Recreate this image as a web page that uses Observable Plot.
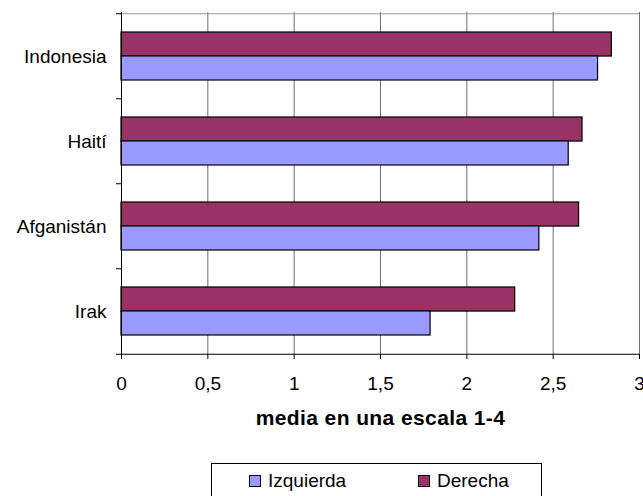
<!DOCTYPE html>
<html><head><meta charset="utf-8">
<script src="https://cdn.jsdelivr.net/npm/d3@7"></script>
<script src="https://cdn.jsdelivr.net/npm/@observablehq/plot@0.6"></script>
<style>
body{margin:0;background:#fff;font-family:"Liberation Sans",Arial,sans-serif;}
#wrap{position:relative;width:643px;height:496px;overflow:hidden;background:#fff;}
#legend{position:absolute;left:211px;top:463px;width:331px;height:35px;border:1px solid #000;box-sizing:border-box;background:#fff;}
.item{position:absolute;top:0;height:33px;display:flex;align-items:center;font-size:19px;color:#000;white-space:nowrap;}
.sw{width:10px;height:10px;border:1px solid #000;margin-right:7px;}
</style></head><body><div id="wrap"><div id="chart"></div><div id="legend"></div></div>
<script>
const countries = ["Indonesia", "Haití", "Afganistán", "Irak"];
const legendOrder = ["Izquierda", "Derecha"];
const derecha = [2.84, 2.67, 2.65, 2.28];
const izquierda = [2.76, 2.59, 2.42, 1.79];
const xTicks = [0, 0.5, 1, 1.5, 2, 2.5, 3];
const xLabel = "media en una escala 1-4";
const colors = {Izquierda: "#9999FF", Derecha: "#993366"};

const rows = countries.map((c, i) => ({country: c, Derecha: derecha[i], Izquierda: izquierda[i]}));

const W = 643, H = 440, mT = 12, mB = 86, mL = 121, mR = 4;
const pIn = 0.44, pOut = 0.22;
const step = (H - mT - mB) / countries.length;
const half = step * (1 - pIn) / 2;

const plot = Plot.plot({
  width: W, height: H,
  marginTop: mT, marginBottom: mB, marginLeft: mL, marginRight: mR,
  style: {fontFamily: "Liberation Sans, Arial, sans-serif", fontSize: "19px", color: "#000", background: "#fff"},
  x: {domain: [0, 3], label: null},
  y: {domain: countries, paddingInner: pIn, paddingOuter: pOut, label: null},
  marks: [
    Plot.gridX(xTicks, {stroke: "#6e6e6e", strokeOpacity: 1}),
    Plot.barX(rows, {y: "country", x: "Derecha", fill: colors.Derecha, stroke: "#000", strokeWidth: 1.2, insetBottom: half}),
    Plot.barX(rows, {y: "country", x: "Izquierda", fill: colors.Izquierda, stroke: "#000", strokeWidth: 1.2, insetTop: half}),
    Plot.ruleY([countries[0]], {dy: -step / 2, stroke: "#9a9a9a"}),
    Plot.ruleY([countries[countries.length - 1]], {dy: step / 2, stroke: "#000"}),
    Plot.ruleX([0], {stroke: "#000"}),
    Plot.ruleY(countries, {x1: 0, x2: 0, insetLeft: -5, dy: -step / 2, stroke: "#000"}),
    Plot.ruleY([countries[countries.length - 1]], {x1: 0, x2: 0, insetLeft: -5, dy: step / 2, stroke: "#000"}),
    Plot.axisX(xTicks, {tickSize: 5, tickPadding: 17, tickFormat: d => String(d).replace(".", ","), fontSize: 19, label: null}),
    Plot.axisY({tickSize: 0, tickPadding: 15, fontSize: 19, label: null}),
    Plot.text([xLabel], {frameAnchor: "bottom", dy: 70, fontWeight: "bold", fontSize: 21, fill: "#000", style: "letter-spacing:0.4px"})
  ]
});
document.getElementById("chart").appendChild(plot);
d3.select(plot).selectAll("text").filter(function() { return this.textContent === xLabel; }).style("letter-spacing", "0.4px");

const legend = document.getElementById("legend");
const legendX = {Izquierda: 37, Derecha: 206};
legendOrder.forEach(s => {
  const it = document.createElement("div");
  it.className = "item";
  it.style.left = legendX[s] + "px";
  const sw = document.createElement("span");
  sw.className = "sw";
  sw.style.background = colors[s];
  it.appendChild(sw);
  it.appendChild(document.createTextNode(s));
  legend.appendChild(it);
});
</script></body></html>
